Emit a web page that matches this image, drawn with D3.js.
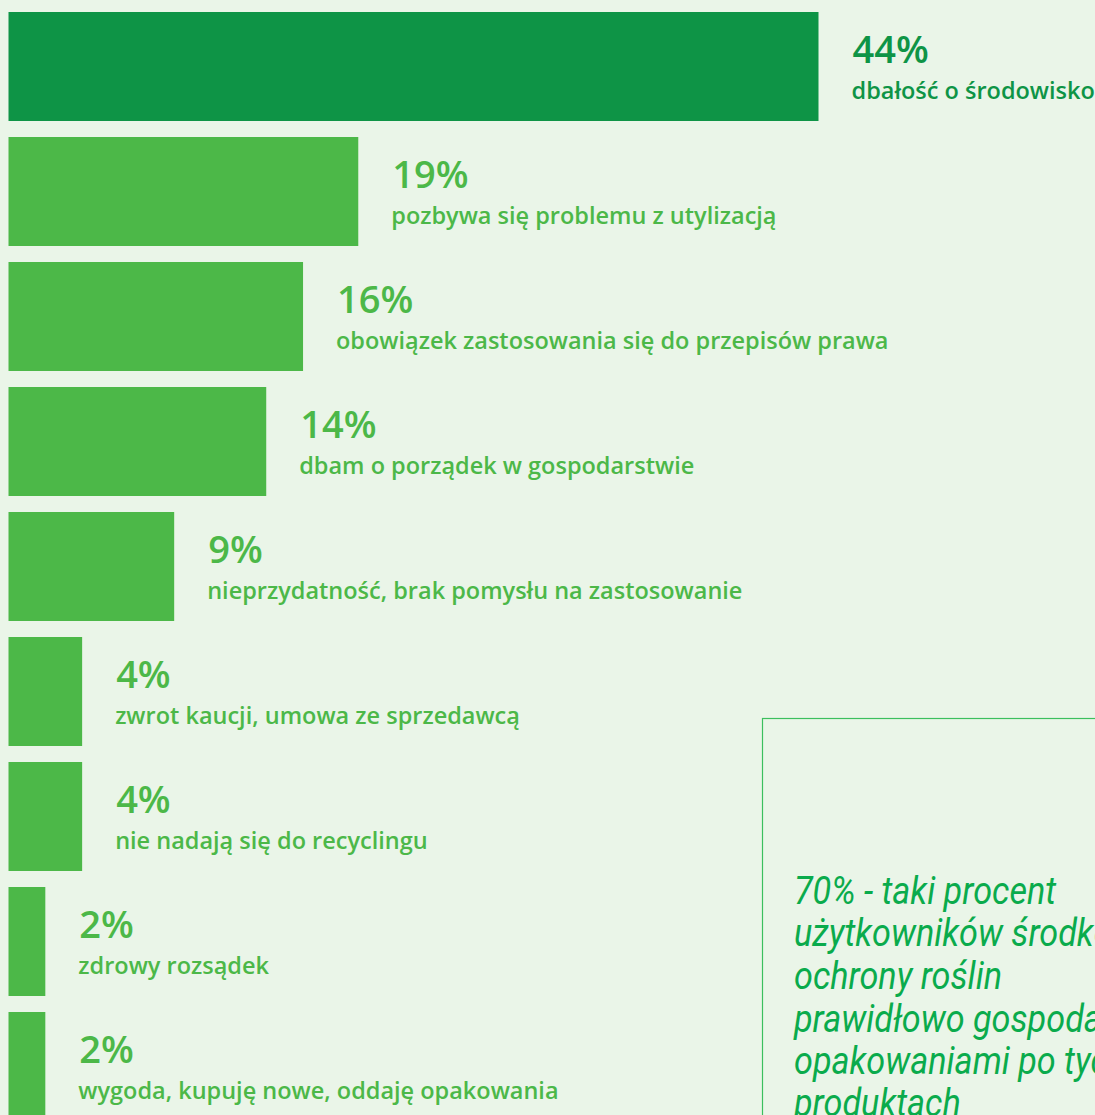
<!DOCTYPE html>
<html><head><meta charset="utf-8">
<script src="https://cdn.jsdelivr.net/npm/d3@7"></script>
<style>
html,body{margin:0;padding:0;background:#eaf5e8;overflow:hidden}
svg{display:block}
</style></head>
<body>
<svg id="chart" width="1095" height="1115"></svg>
<script>
const categories = [
  "dbałość o środowisko",
  "pozbywa się problemu z utylizacją",
  "obowiązek zastosowania się do przepisów prawa",
  "dbam o porządek w gospodarstwie",
  "nieprzydatność, brak pomysłu na zastosowanie",
  "zwrot kaucji, umowa ze sprzedawcą",
  "nie nadają się do recyclingu",
  "zdrowy rozsądek",
  "wygoda, kupuję nowe, oddaję opakowania"
];
const values = [44, 19, 16, 14, 9, 4, 4, 2, 2];
const noteLines = [
  "70% - taki procent",
  "użytkowników środków",
  "ochrony roślin",
  "prawidłowo gospodaruje",
  "opakowaniami po tych",
  "produktach"
];

const svg = d3.select("#chart");
svg.append("rect").attr("width",1095).attr("height",1115).attr("fill","#eaf5e8");

const x = d3.scaleLinear().domain([0,44]).range([0,810]);
const y = d3.scaleBand().domain(d3.range(values.length))
  .range([12, 12 + 125*values.length - 16]).paddingInner(16/125).paddingOuter(0);
const x0 = 8.5;
const dark = "#0e9446", light = "#4cb848";
const color = i => i === 0 ? dark : light;

const g = svg.selectAll("g.row").data(values).join("g").attr("class","row");
g.append("rect")
  .attr("x", x0)
  .attr("y", (d,i) => y(i))
  .attr("width", d => x(d))
  .attr("height", y.bandwidth())
  .attr("fill", (d,i) => color(i));
g.append("text")
  .attr("x", d => x0 + x(d) + 34)
  .attr("y", (d,i) => y(i) + 51)
  .attr("fill", (d,i) => color(i))
  .style("font-family","'Open Sans', sans-serif")
  .style("font-weight", 600)
  .style("font-size","38px")
  .text(d => d + "%");
g.append("text")
  .attr("x", d => x0 + x(d) + 33)
  .attr("y", (d,i) => y(i) + 87)
  .attr("fill", (d,i) => color(i))
  .style("font-family","'Open Sans', sans-serif")
  .style("font-weight", 600)
  .style("font-size","23.5px")
  .text((d,i) => categories[i]);

// note box
svg.append("rect")
  .attr("x", 762.5).attr("y", 718.5)
  .attr("width", 400).attr("height", 500)
  .attr("fill","none").attr("stroke","#3cbf5e").attr("stroke-width",1.2);

const note = svg.append("g").attr("transform","translate(794,0) scale(0.9,1)");
note.selectAll("text").data(noteLines).join("text")
  .attr("x", 0)
  .attr("y", (d,i) => 904 + i*42.5)
  .attr("fill","#0aab4c")
  .style("font-family","Roboto, sans-serif")
  .style("font-style","italic")
  .style("font-weight", 400)
  .style("font-size","38px")
  .text(d => d);
</script>
</body></html>
